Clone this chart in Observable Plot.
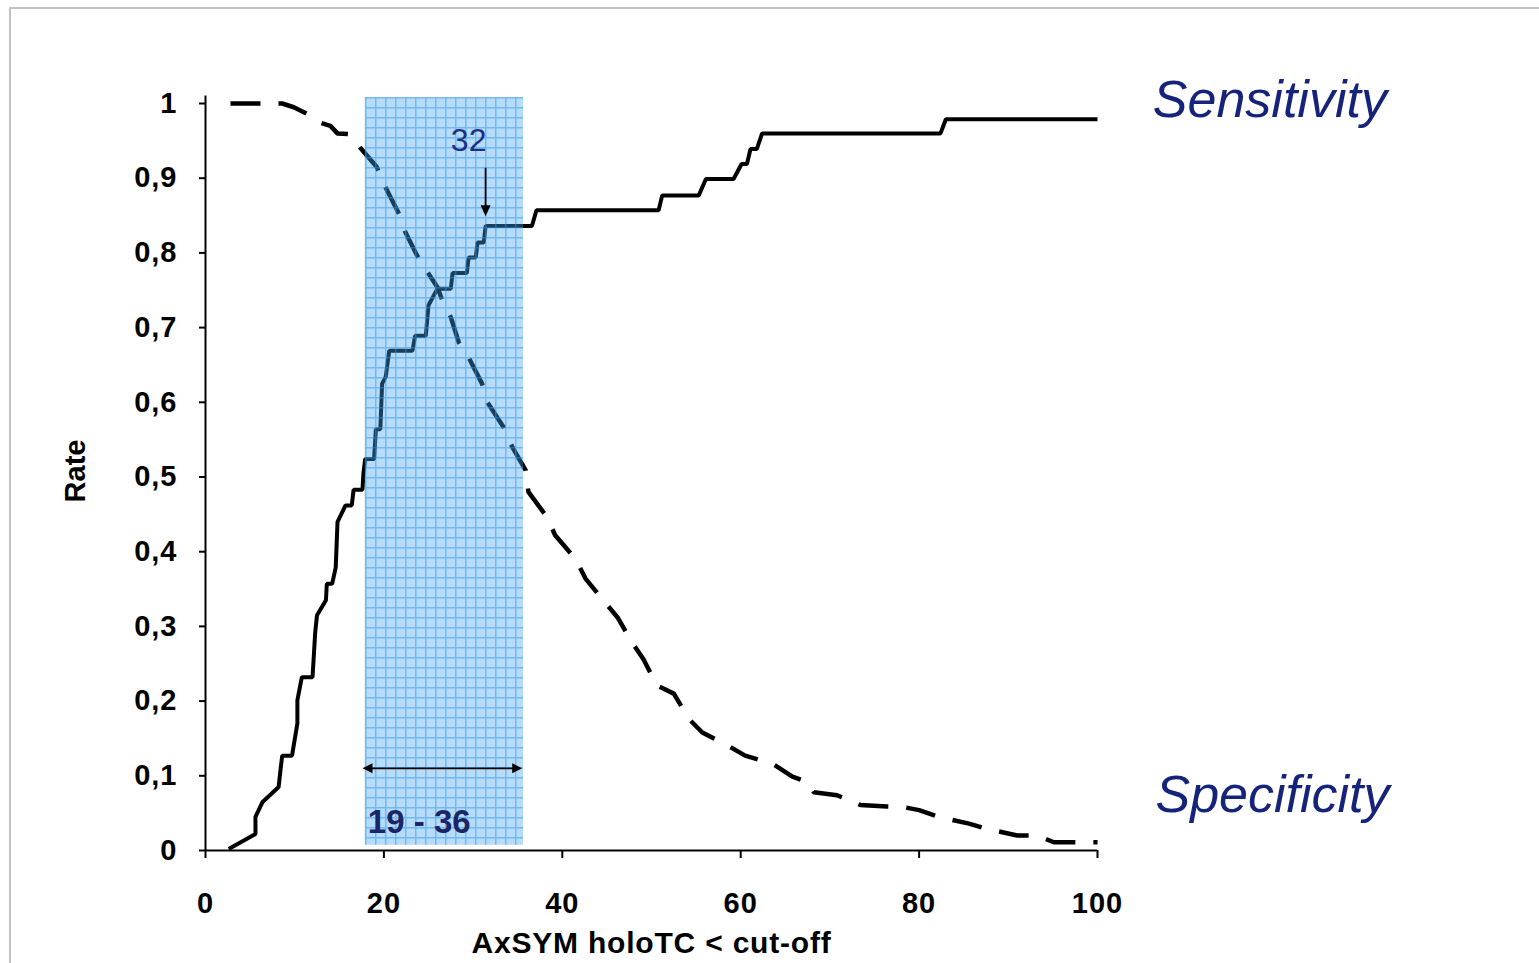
<!DOCTYPE html>
<html>
<head>
<meta charset="utf-8">
<script src="https://cdn.jsdelivr.net/npm/d3@7"></script>
<script src="https://cdn.jsdelivr.net/npm/@observablehq/plot@0.6"></script>
<style>
  html, body { margin: 0; padding: 0; background: #fff; }
  #wrap { position: relative; width: 1539px; height: 963px; overflow: hidden; }
  #frame { position: absolute; left: 9px; top: 7px; right: -10px; bottom: -10px;
           border-top: 2px solid #c2c2c2; border-left: 2px solid #c2c2c2; pointer-events: none; }
  #chart svg g[aria-label="x-axis"] line, #chart svg g[aria-label="y-axis"] line { stroke-width: 2px; }
  #chart svg g[aria-label="x-axis tick"], #chart svg g[aria-label="y-axis tick"] { stroke-width: 2px; }
  #chart svg g[aria-label="x-axis"] text, #chart svg g[aria-label="y-axis"] text,
  #chart svg g[aria-label="x-axis tick label"] text, #chart svg g[aria-label="y-axis tick label"] text { letter-spacing: 1px; }
</style>
</head>
<body>
<div id="wrap"><div id="chart"></div><div id="frame"></div></div>
<script>
// Sensitivity (solid, stepped) — cut-off vs rate
const sensCutoff = [2.6, 5.6, 5.6, 6.4, 8.2, 8.4, 8.6, 9.7, 10.3, 10.3, 10.8, 12.0, 12.3, 12.5, 13.5, 13.6, 14.2, 14.6, 14.8, 15.7, 16.4, 16.6, 17.6, 17.7, 17.9, 18.9, 19.1, 19.6, 19.8, 20.2, 20.6, 23.2, 23.5, 24.7, 25.0, 26.0, 27.5, 27.7, 29.3, 29.5, 30.3, 30.5, 31.2, 31.4, 36.6, 37.1, 50.8, 51.2, 55.3, 56.1, 59.2, 60.1, 60.7, 61.1, 61.8, 62.4, 82.4, 83.0, 100];
const sensRate   = [0.002, 0.022, 0.045, 0.065, 0.085, 0.107, 0.127, 0.127, 0.170, 0.201, 0.232, 0.232, 0.292, 0.315, 0.335, 0.357, 0.357, 0.379, 0.440, 0.462, 0.462, 0.483, 0.483, 0.504, 0.524, 0.524, 0.564, 0.564, 0.625, 0.634, 0.669, 0.669, 0.689, 0.689, 0.730, 0.752, 0.752, 0.773, 0.773, 0.794, 0.794, 0.814, 0.814, 0.836, 0.836, 0.857, 0.857, 0.877, 0.877, 0.899, 0.899, 0.919, 0.919, 0.939, 0.939, 0.960, 0.960, 0.979, 0.979];

// Specificity (dashed) — cut-off vs rate
const specCutoff = [2.8, 8.6, 9.9, 11.4, 12.9, 14.0, 14.8, 16.1, 17.4, 19.2, 20.0, 21.7, 22.4, 23.7, 24.9, 26.0, 26.5, 27.5, 28.4, 29.5, 31.0, 31.6, 33.4, 34.4, 35.9, 36.2, 38.3, 39.2, 41.5, 42.6, 44.8, 46.2, 47.8, 49.1, 50.6, 52.5, 54.2, 55.7, 58.9, 60.5, 63.6, 65.8, 67.6, 68.2, 70.8, 73.4, 76.4, 78.3, 80.0, 82.2, 85.6, 87.6, 91.0, 93.2, 95.1, 100];
const specRate   = [1.000, 1.000, 0.995, 0.986, 0.974, 0.970, 0.960, 0.959, 0.940, 0.915, 0.892, 0.852, 0.828, 0.797, 0.774, 0.754, 0.738, 0.714, 0.680, 0.660, 0.625, 0.600, 0.567, 0.540, 0.509, 0.480, 0.446, 0.422, 0.390, 0.364, 0.332, 0.312, 0.279, 0.256, 0.221, 0.210, 0.176, 0.158, 0.138, 0.127, 0.116, 0.099, 0.091, 0.078, 0.074, 0.061, 0.059, 0.058, 0.054, 0.045, 0.036, 0.029, 0.020, 0.020, 0.011, 0.011];

// Axis ticks and labels
const xTicks = [0, 20, 40, 60, 80, 100];
const yTicks = [0, 0.1, 0.2, 0.3, 0.4, 0.5, 0.6, 0.7, 0.8, 0.9, 1];
const yTickLabels = ["0", "0,1", "0,2", "0,3", "0,4", "0,5", "0,6", "0,7", "0,8", "0,9", "1"];

// Annotations
const rangeBand = [{x1: 17.9, x2: 35.65, y1: 0.007, y2: 1.008}];
const rangeArrow = [{x1: 17.6, x2: 35.5, y: 0.11}];
const rangeLabel = [{x: 18.2, y: 0.024, text: "19 - 36"}];
const cutArrow = [{x: 31.4, y1: 0.914, y2: 0.849}];
const cutLabel = [{x: 29.5, y: 0.936, text: "32"}];
const curveLabels = [
  {x: 106.2, y: 0.982, text: "Sensitivity"},
  {x: 106.5, y: 0.051, text: "Specificity"}
];

const sens = sensCutoff.map((c, i) => ({cutoff: c, rate: sensRate[i]}));
const spec = specCutoff.map((c, i) => ({cutoff: c, rate: specRate[i]}));

// Arrowhead symbols with the tip at the anchor point
const triDown = {draw(ctx, size) { const r = Math.sqrt(size / Math.PI); ctx.moveTo(0, 0); ctx.lineTo(-r, -2.2 * r); ctx.lineTo(r, -2.2 * r); ctx.closePath(); }};
const triLeft = {draw(ctx, size) { const r = Math.sqrt(size / Math.PI); ctx.moveTo(0, 0); ctx.lineTo(2 * r, -r); ctx.lineTo(2 * r, r); ctx.closePath(); }};
const triRight = {draw(ctx, size) { const r = Math.sqrt(size / Math.PI); ctx.moveTo(0, 0); ctx.lineTo(-2 * r, -r); ctx.lineTo(-2 * r, r); ctx.closePath(); }};

const navy = "#15237a";

const chart = Plot.plot({
  width: 1539,
  height: 963,
  marginLeft: 205,
  marginRight: 442,
  marginTop: 103,
  marginBottom: 113,
  style: {fontFamily: "'Liberation Sans', Arial, sans-serif", fontSize: "29px", fontWeight: "bold", background: "transparent", overflow: "visible", color: "#000"},
  x: {domain: [0, 100], ticks: xTicks, tickSize: 8, tickPadding: 34, label: null},
  y: {domain: [0, 1], ticks: yTicks, tickSize: 6, tickPadding: 22, label: null,
      tickFormat: d => yTickLabels[yTicks.findIndex(t => Math.abs(t - d) < 1e-9)]},
  marks: [
    Plot.line(sens, {x: "cutoff", y: "rate", stroke: "#000", strokeWidth: 4, strokeLinejoin: "miter", strokeLinecap: "butt"}),
    Plot.line(spec, {x: "cutoff", y: "rate", stroke: "#000", strokeWidth: 4.5, strokeDasharray: "30,18", strokeLinecap: "butt"}),
    Plot.rect(rangeBand, {x1: "x1", x2: "x2", y1: "y1", y2: "y2", fill: "url(#shadeGrid)"}),
    Plot.ruleX([0], {y1: 0, y2: 1.01, stroke: "#000", strokeWidth: 2}),
    Plot.ruleY([0], {x1: 0, x2: 100, stroke: "#000", strokeWidth: 2}),
    // range arrow
    Plot.link(rangeArrow, {x1: d => d.x1 + 0.9, x2: d => d.x2 - 0.9, y1: "y", y2: "y", stroke: "#000", strokeWidth: 1.8}),
    Plot.dot(rangeArrow, {x: "x1", y: "y", symbol: triLeft, r: 5, fill: "#000", stroke: "none"}),
    Plot.dot(rangeArrow, {x: "x2", y: "y", symbol: triRight, r: 5, fill: "#000", stroke: "none"}),
    Plot.text(rangeLabel, {x: "x", y: "y", text: "text", textAnchor: "start", lineAnchor: "bottom", fontSize: 33, fontWeight: "bold", fill: "#1a2668"}),
    // cut-off arrow
    Plot.link(cutArrow, {x1: "x", x2: "x", y1: "y1", y2: d => d.y2 + 0.012, stroke: "#000", strokeWidth: 1.8}),
    Plot.dot(cutArrow, {x: "x", y: "y2", symbol: triDown, r: 5, fill: "#000", stroke: "none"}),
    Plot.text(cutLabel, {x: "x", y: "y", text: "text", textAnchor: "middle", lineAnchor: "bottom", fontSize: 32, fontWeight: "normal", fill: "#1f2e82"}),
    // curve labels
    Plot.text(curveLabels, {x: "x", y: "y", text: "text", textAnchor: "start", lineAnchor: "bottom", fontSize: 52, fontStyle: "italic", fontWeight: "normal", fill: navy}),
    // axis titles
    Plot.text(["AxSYM holoTC < cut-off"], {x: 50, frameAnchor: "bottom", dy: 102, textAnchor: "middle", lineAnchor: "bottom", fontSize: 30, fontWeight: "bold", fill: "#000"}),
    Plot.text(["Rate"], {frameAnchor: "left", y: 0.508, dx: -130, rotate: -90, textAnchor: "middle", lineAnchor: "middle", fontSize: 29, fontWeight: "bold", fill: "#000"})
  ]
});

// grid-textured pattern for the highlighted band
d3.select(chart).insert("defs", ":first-child").html(
  '<pattern id="shadeGrid" patternUnits="userSpaceOnUse" x="365" y="97" width="10" height="10">' +
  '<rect width="10" height="10" fill="#3fa2ef" fill-opacity="0.38"></rect>' +
  '<path d="M0,0.75H10M0.75,0V10" stroke="#2a96ee" stroke-opacity="0.5" stroke-width="1.5" fill="none"></path>' +
  '</pattern>'
);

// slightly widen the x-axis title to match the original's letterforms
d3.select(chart).selectAll("text").filter(function() { return this.textContent === "AxSYM holoTC < cut-off"; })
  .style("letter-spacing", "0.8px");

document.getElementById("chart").appendChild(chart);
</script>
</body>
</html>
